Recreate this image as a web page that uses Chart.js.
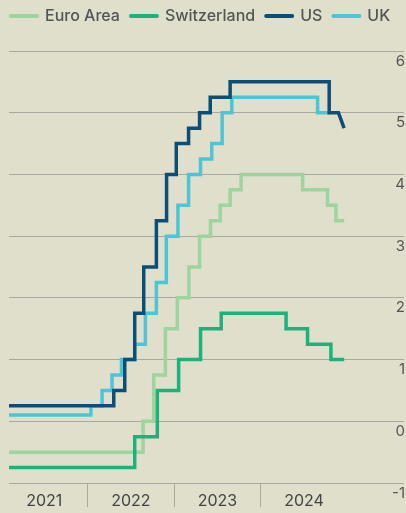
<!DOCTYPE html>
<html>
<head>
<meta charset="utf-8">
<script src="https://cdn.jsdelivr.net/npm/chart.js@4.4.1/dist/chart.umd.min.js"></script>
<style>
    html, body { margin: 0; padding: 0; background: #dfdfcb; }
    .wrap { width: 406px; height: 513px; position: relative; }
</style>
</head>
<body>
<div class="wrap"><canvas id="ratesChart"></canvas></div>
<script>
// Policy rates, change dates in decimal years (last entry = end of the series)
const euroDates = [2021.09, 2022.641, 2022.764, 2022.899, 2023.037, 2023.171, 2023.294, 2023.420, 2023.532, 2023.647, 2023.774, 2024.484, 2024.772, 2024.869, 2024.964];
const euroRates = [-0.5, 0, 0.75, 1.5, 2.0, 2.5, 3.0, 3.25, 3.5, 3.75, 4.0, 3.75, 3.5, 3.25, 3.25];

const swissDates = [2021.09, 2022.545, 2022.806, 2023.052, 2023.305, 2023.544, 2024.293, 2024.541, 2024.811, 2024.964];
const swissRates = [-0.75, -0.25, 0.5, 1.0, 1.5, 1.75, 1.5, 1.25, 1.0, 1.0];

const usDates = [2021.09, 2022.303, 2022.430, 2022.545, 2022.649, 2022.795, 2022.913, 2023.025, 2023.167, 2023.294, 2023.417, 2023.647, 2024.791, 2024.898, 2024.963];
const usRates = [0.25, 0.5, 1.0, 1.75, 2.5, 3.25, 4.0, 4.5, 4.75, 5.0, 5.25, 5.5, 5.0, 5.0, 4.75];

const ukDates = [2021.09, 2022.039, 2022.168, 2022.283, 2022.392, 2022.545, 2022.668, 2022.795, 2022.910, 2023.044, 2023.167, 2023.305, 2023.435, 2023.555, 2023.666, 2024.657, 2024.800];
const ukRates = [0.1, 0.25, 0.5, 0.75, 1.0, 1.25, 1.75, 2.25, 3.0, 3.5, 4.0, 4.25, 4.5, 5.0, 5.25, 5.0, 5.0];

const yearLabels = ['2021', '2022', '2023', '2024'];
const yearTicks = [2021.5, 2022, 2022.5, 2023, 2023.5, 2024, 2024.5];
const rateTicks = [-1, 0, 1, 2, 3, 4, 5, 6];

// step shape: hold each rate until the next change, last point joined straight
function stepPoints(dates, rates) {
    const pts = [];
    const last = dates.length - 1;
    for (let i = 0; i < last; i++) {
        if (i > 0) pts.push({ x: dates[i], y: rates[i - 1] });
        pts.push({ x: dates[i], y: rates[i] });
    }
    pts.push({ x: dates[last], y: rates[last] });
    return pts;
}

const gridColor = '#a9a9a2';
const textColor = '#555555';

function series(label, dates, rates, color, order) {
    return {
        label: label,
        data: stepPoints(dates, rates),
        borderColor: color,
        backgroundColor: color,
        borderWidth: 3.5,
        borderJoinStyle: 'miter',
        pointRadius: 0,
        tension: 0,
        order: order
    };
}

// leave room under the legend before the plot starts
const legendGap = {
    id: 'legendGap',
    beforeInit(chart) {
        const fit = chart.legend.fit;
        chart.legend.fit = function () {
            fit.bind(chart.legend)();
            this.height += 17;
        };
    }
};

const ctx = document.getElementById('ratesChart').getContext('2d');
new Chart(ctx, {
    type: 'line',
    data: {
        datasets: [
            series('Euro Area', euroDates, euroRates, '#9dd49f', 3),
            series('Switzerland', swissDates, swissRates, '#1bb37b', 2),
            series('US', usDates, usRates, '#0b4f77', 0),
            series('UK', ukDates, ukRates, '#4ec5d6', 1)
        ]
    },
    plugins: [legendGap],
    options: {
        responsive: true,
        maintainAspectRatio: false,
        animation: false,
        layout: { padding: { top: -3, right: 0, bottom: 0, left: 0 } },
        plugins: {
            tooltip: { enabled: false },
            legend: {
                position: 'top',
                align: 'start',
                labels: {
                    usePointStyle: true,
                    pointStyle: 'line',
                    pointStyleWidth: 26,
                    boxHeight: 4,
                    padding: 11,
                    color: textColor,
                    font: { family: 'Inter', size: 16, weight: '500' },
                    sort: (a, b) => a.datasetIndex - b.datasetIndex,
                    generateLabels: chart => {
                        const items = Chart.defaults.plugins.legend.labels.generateLabels(chart);
                        items.forEach(it => { it.lineCap = 'round'; it.lineWidth = 4; });
                        return items;
                    }
                }
            }
        },
        scales: {
            x: {
                type: 'linear',
                min: 2021.093,
                max: 2025.655,
                afterBuildTicks: scale => { scale.ticks = yearTicks.map(v => ({ value: v })); },
                afterFit: scale => { scale.height = 30; },
                grid: {
                    drawOnChartArea: false,
                    drawTicks: true,
                    tickLength: 24,
                    color: c => (c.tick && Number.isInteger(c.tick.value)) ? gridColor : 'rgba(0,0,0,0)'
                },
                border: { display: false },
                ticks: {
                    autoSkip: false,
                    maxRotation: 0,
                    padding: -15,
                    color: '#444',
                    font: { family: 'Inter', size: 16 },
                    callback: value => Number.isInteger(value) ? '' : yearLabels[Math.floor(value) - 2021]
                }
            },
            yl: {
                position: 'left',
                display: true,
                grid: { display: false },
                border: { display: false },
                ticks: { display: false },
                afterFit: scale => { scale.width = 9; }
            },
            y: {
                position: 'right',
                min: -1,
                max: 6,
                afterBuildTicks: scale => { scale.ticks = rateTicks.map(v => ({ value: v })); },
                grid: { color: gridColor, drawTicks: false },
                border: { display: false },
                ticks: {
                    mirror: true,
                    padding: 1,
                    labelOffset: 10,
                    color: textColor,
                    font: { family: 'Inter', size: 15 }
                }
            }
        }
    }
});
</script>
</body>
</html>
